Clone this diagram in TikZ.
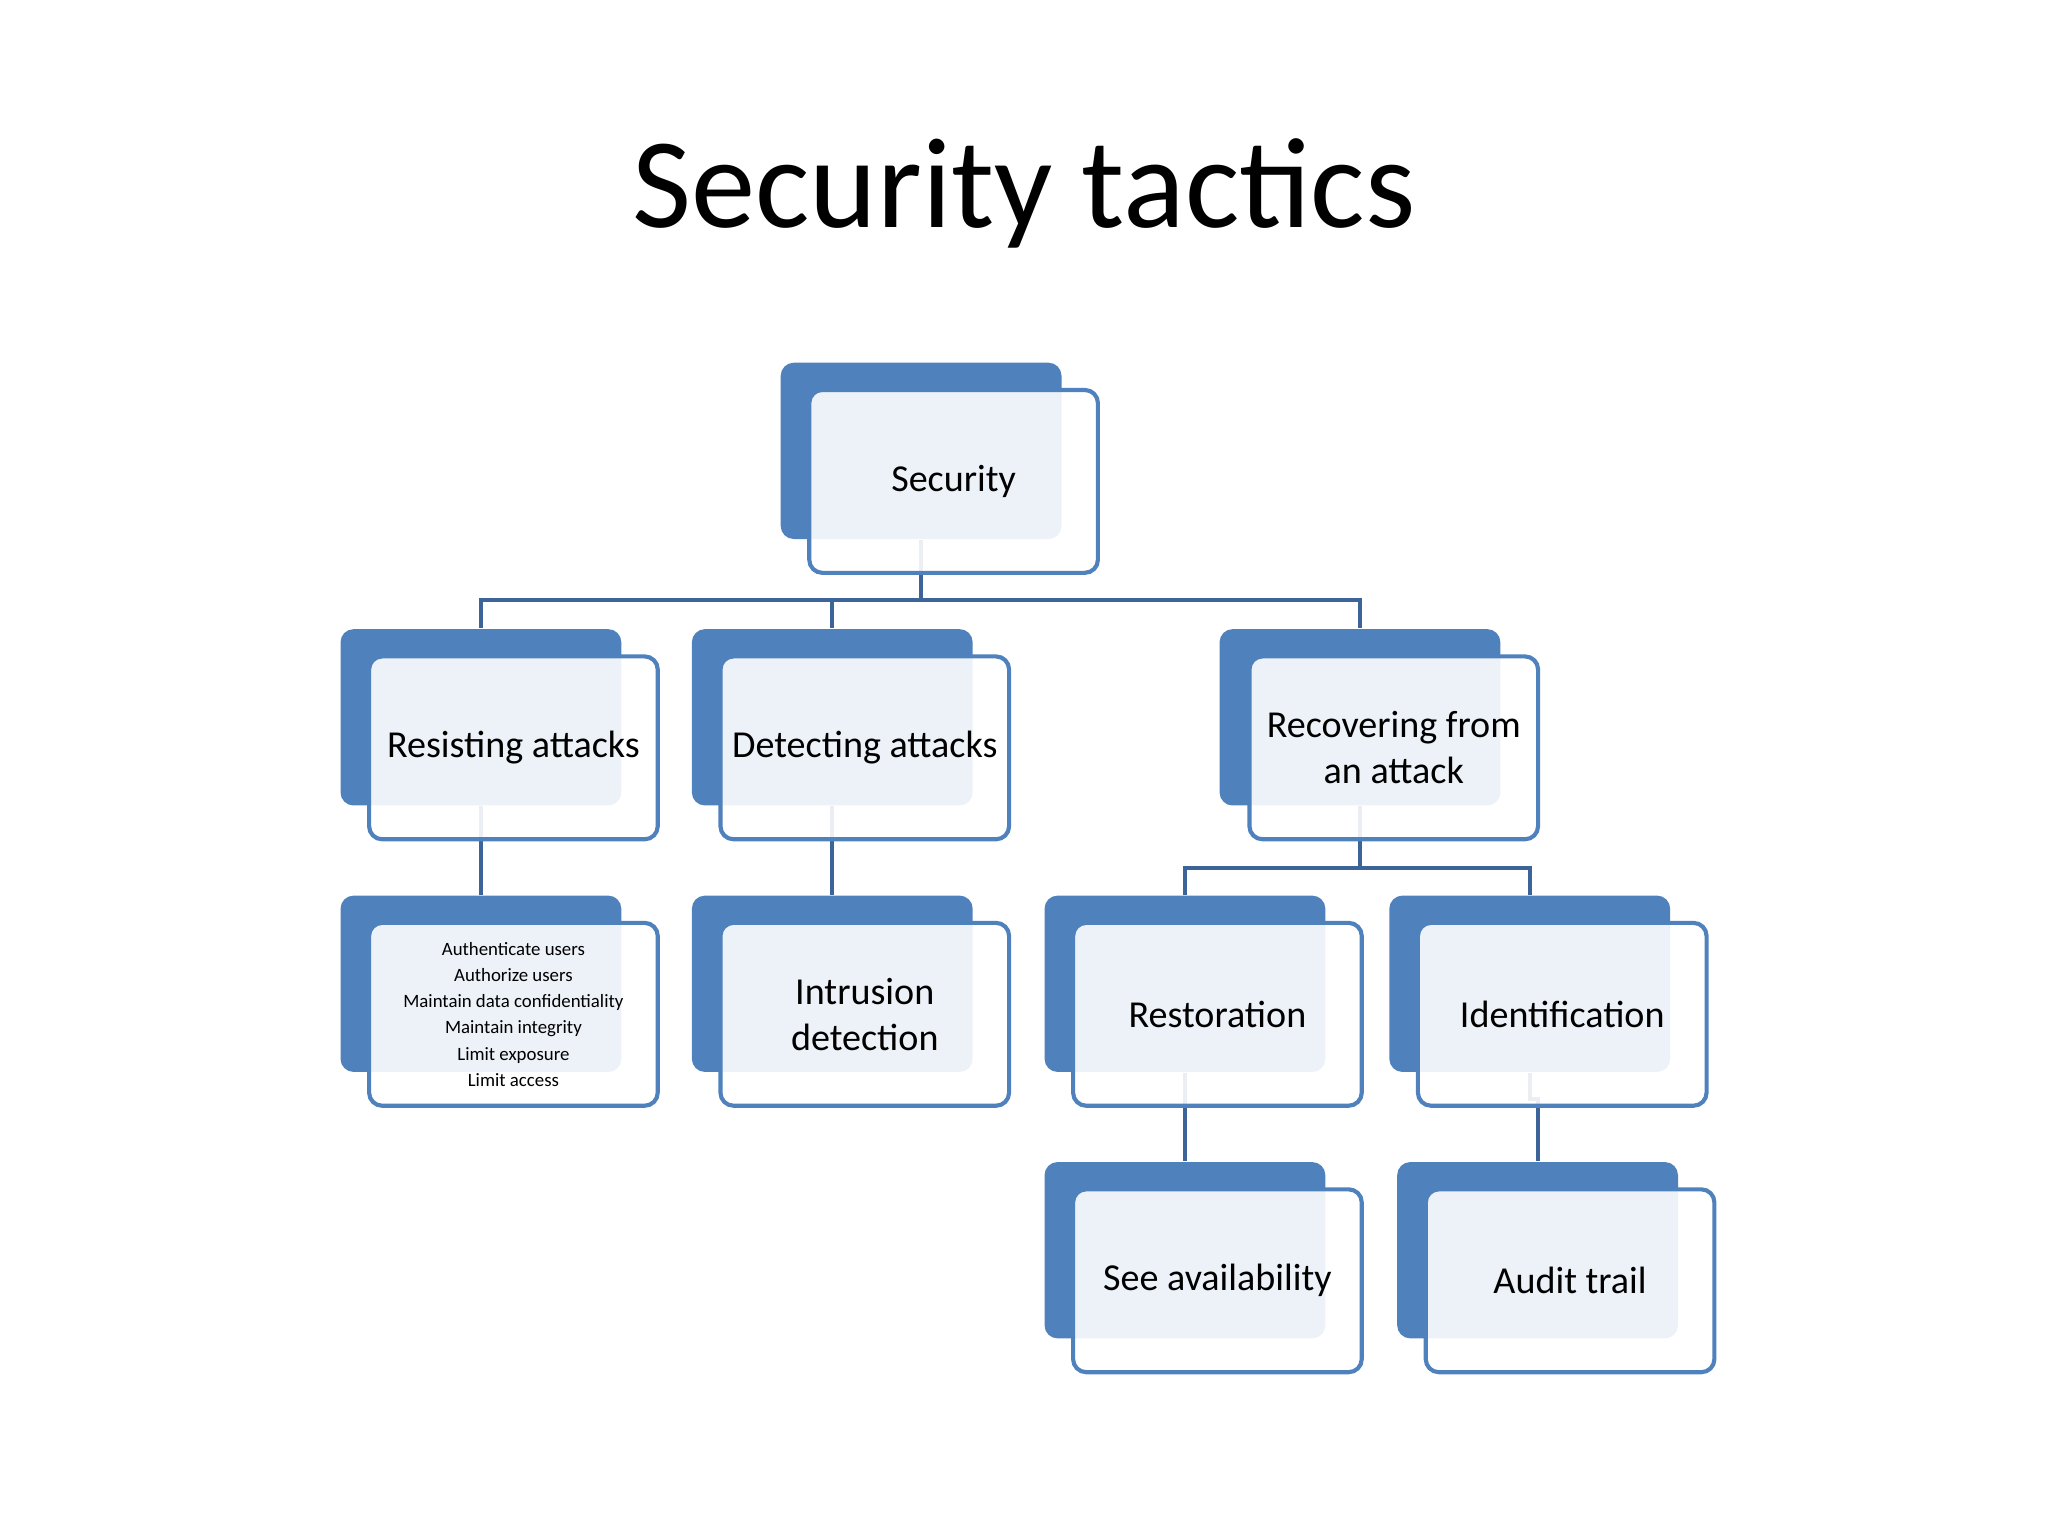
\documentclass[tikz,border=0pt]{standalone}
\usepackage{fontspec}
\setmainfont{Carlito}
\definecolor{bdark}{HTML}{4F81BD}
\definecolor{bline}{HTML}{3C6498}
\begin{document}
\begin{tikzpicture}[x=1cm,y=1cm,
  back/.style={fill=bdark,rounded corners=0.1cm,minimum width=2.15cm,minimum height=1.35cm,anchor=north west,inner sep=0},
  front/.style={draw=bdark,line width=0.9pt,fill=white,fill opacity=0.9,text opacity=1,rounded corners=0.1cm,minimum width=2.21cm,minimum height=1.40cm,anchor=north west,align=center,font=\fontsize{8.3pt}{10pt}\selectfont,inner sep=0},
  conn/.style={draw=bline,line width=0.9pt}]
\useasboundingbox (0,0) rectangle (15.68,-11.76);
\node (title) at (7.84,-1.48) {\fontsize{28pt}{32pt}\selectfont Security tactics};
% backs
\node[back] (secB) at (5.97,-2.77) {};
\node[back] (resB) at (2.60,-4.81) {};
\node[back] (detB) at (5.29,-4.81) {};
\node[back] (recB) at (9.33,-4.81) {};
\node[back] (autB) at (2.60,-6.85) {};
\node[back] (intB) at (5.29,-6.85) {};
\node[back] (rstB) at (7.99,-6.85) {};
\node[back] (idB) at (10.63,-6.85) {};
\node[back] (seeB) at (7.99,-8.89) {};
\node[back] (audB) at (10.69,-8.89) {};
% connectors
\draw[conn] (secB.south) -- ++(0,-0.46) coordinate (j1);
\draw[conn] (resB.north) |- (j1) -| (recB.north);
\draw[conn] (detB.north) -- (detB.north |- j1);
\draw[conn] (resB.south) -- (autB.north);
\draw[conn] (detB.south) -- (intB.north);
\draw[conn] (recB.south) -- ++(0,-0.47) coordinate (j2);
\draw[conn] (rstB.north) |- (j2) -| (idB.north);
\draw[conn] (rstB.south) -- (seeB.north);
\draw[conn] (idB.south) -- ++(0,-0.2) -| (audB.north);
% fronts
\node[front] (sec) at (6.18,-2.97) {Security};
\node[front] (res) at (2.81,-5.01) {Resisting attacks};
\node[front] (det) at (5.50,-5.01) {Detecting attacks};
\node[front] (rec) at (9.55,-5.01) {Recovering from\\an attack};
\node[front,font=\fontsize{4.1pt}{5.7pt}\selectfont] (aut) at (2.81,-7.05) {Authenticate users\\Authorize users\\Maintain data confidentiality\\Maintain integrity\\Limit exposure\\Limit access};
\node[front] (int) at (5.50,-7.05) {Intrusion\\detection};
\node[front] (rst) at (8.20,-7.05) {Restoration};
\node[front] (id) at (10.84,-7.05) {Identification};
\node[front] (see) at (8.20,-9.09) {See availability};
\node[front] (aud) at (10.90,-9.09) {Audit trail};
\end{tikzpicture}
\end{document}
